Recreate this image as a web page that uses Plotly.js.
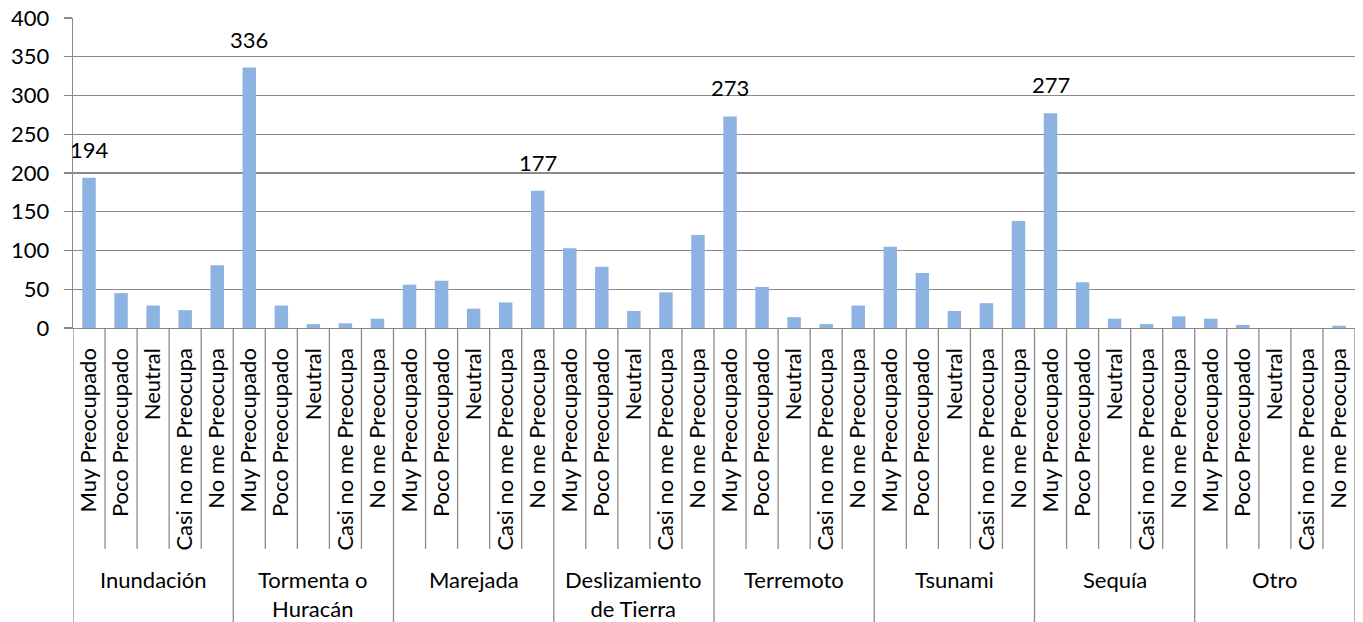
<!DOCTYPE html>
<html>
<head>
<meta charset="utf-8">
<script src="https://cdn.plot.ly/plotly-3.0.1.min.js"></script>
<style>
  html, body { margin: 0; padding: 0; background: #ffffff; }
  #chart { width: 1363px; height: 622px; }
</style>
</head>
<body>
<div id="chart"></div>
<script>
// ---- data ----
const groups = ["Inundación", "Tormenta o<br>Huracán", "Marejada", "Deslizamiento<br>de Tierra", "Terremoto", "Tsunami", "Sequía", "Otro"];
const levels = ["Muy Preocupado", "Poco Preocupado", "Neutral", "Casi no me Preocupa", "No me Preocupa"];
const inundacion   = [194, 45, 29, 23, 81];
const tormenta     = [336, 29, 5, 6, 12];
const marejada     = [56, 61, 25, 33, 177];
const deslizamiento= [103, 79, 22, 46, 120];
const terremoto    = [273, 53, 14, 5, 29];
const tsunami      = [105, 71, 22, 32, 138];
const sequia       = [277, 59, 12, 5, 15];
const otro         = [12, 4, 0, 0, 3];
const labeledGroups = [0, 1, 2, 4, 6];   // groups whose top bar carries a data label
const labeledLevel = [0, 0, 4, 0, 0];    // which level in that group is labeled
const yTicks = [0, 50, 100, 150, 200, 250, 300, 350, 400];

// ---- build ----
const series = [inundacion, tormenta, marejada, deslizamiento, terremoto, tsunami, sequia, otro];
const xs = [], ys = [], tickText = [];
series.forEach((vals, g) => {
  vals.forEach((v, i) => {
    xs.push(g * levels.length + i);
    ys.push(v);
    tickText.push(levels[i]);
  });
});

const plotTopPx = 18, plotBottomPx = 328, figH = 622;
const plotH = plotBottomPx - plotTopPx;
const innerBottom = -(549 - plotBottomPx) / plotH;
const outerBottom = -(figH - plotBottomPx) / plotH;

const lineColor = '#8a8a8a';
const shapes = [];
for (let k = 0; k <= xs.length; k++) {
  const isGroup = (k % levels.length === 0);
  shapes.push({
    type: 'line', xref: 'x', yref: 'paper',
    x0: k - 0.5, x1: k - 0.5, y0: 0, y1: isGroup ? outerBottom : innerBottom,
    line: { color: lineColor, width: 1.3 }
  });
}

const annotations = [];
groups.forEach((name, g) => {
  annotations.push({
    xref: 'x', yref: 'paper', x: g * levels.length + (levels.length - 1) / 2,
    y: -(565 - plotBottomPx) / plotH, yanchor: 'top', xanchor: 'center',
    text: name, showarrow: false, align: 'center', borderpad: 0,
    font: { family: 'Lato, sans-serif', size: 22, color: '#000' }
  });
});
labeledGroups.forEach((g, j) => {
  const idx = g * levels.length + labeledLevel[j];
  annotations.push({
    xref: 'x', yref: 'y', x: xs[idx], y: ys[idx],
    yanchor: 'bottom', xanchor: 'center', yshift: 13,
    text: String(ys[idx]), showarrow: false,
    font: { family: 'Lato, sans-serif', size: 22, color: '#000' }
  });
});

const trace = {
  type: 'bar', x: xs, y: ys, width: 0.42,
  marker: { color: '#8db3e2', line: { width: 0 } },
  hoverinfo: 'x+y'
};

const layout = {
  width: 1363, height: 622,
  margin: { l: 73, r: 8, t: plotTopPx, b: figH - plotBottomPx, pad: 0 },
  paper_bgcolor: '#ffffff', plot_bgcolor: '#ffffff',
  showlegend: false,
  font: { family: 'Lato, sans-serif', size: 22, color: '#000' },
  xaxis: {
    type: 'linear', range: [-0.5, xs.length - 0.5],
    tickmode: 'array', tickvals: xs, ticktext: tickText,
    tickangle: -90, ticks: 'outside', ticklen: 10, tickcolor: 'rgba(0,0,0,0)',
    showgrid: false, zeroline: false,
    showline: true, linecolor: lineColor, linewidth: 1.3,
    tickfont: { family: 'Lato, sans-serif', size: 22, color: '#000' },
    fixedrange: true
  },
  yaxis: {
    range: [0, 400], tickmode: 'array', tickvals: yTicks,
    ticks: 'outside', ticklen: 8, tickcolor: lineColor, tickwidth: 1.3,
    showgrid: true, gridcolor: lineColor, gridwidth: 1.3,
    zeroline: false, showline: true, linecolor: lineColor, linewidth: 1.3,
    tickfont: { family: 'Lato, sans-serif', size: 22, color: '#000' },
    ticklabelstandoff: 10,
    fixedrange: true
  },
  shapes: shapes,
  annotations: annotations
};

Plotly.newPlot('chart', [trace], layout, { displayModeBar: false, staticPlot: true });
</script>
</body>
</html>
